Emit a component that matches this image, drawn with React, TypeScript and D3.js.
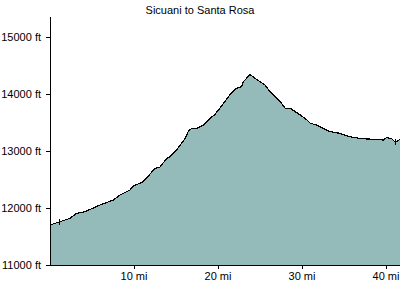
import React from "react";
import * as d3 from "d3";

const title = "Sicuani to Santa Rosa";
const miles = [0, 1.19, 2.38, 3.18, 4.17, 5.95, 7.54, 8.33, 9.52, 9.92, 11.1, 11.7, 12.5, 13.1, 13.9, 14.3, 14.9, 15.5, 16.1, 16.5, 16.9, 17.5, 18.25, 18.85, 19.25, 19.6, 20.2, 20.8, 21.4, 22.2, 22.8, 23.0, 23.4, 23.8, 24.4, 25.0, 25.6, 26.2, 26.8, 27.4, 28.0, 28.6, 29.2, 29.8, 30.6, 31.0, 31.75, 32.5, 33.3, 34.5, 35.7, 36.9, 38.5, 39.7, 40.1, 40.7, 41.1, 41.7];
const elevations = [11702, 11760, 11819, 11907, 11935, 12053, 12140, 12228, 12316, 12386, 12461, 12561, 12696, 12719, 12872, 12900, 12988, 13105, 13223, 13356, 13398, 13398, 13456, 13544, 13602, 13632, 13749, 13865, 13982, 14100, 14130, 14216, 14275, 14346, 14275, 14216, 14158, 14040, 13953, 13865, 13749, 13749, 13690, 13632, 13544, 13486, 13456, 13398, 13342, 13310, 13251, 13219, 13205, 13193, 13240, 13211, 13153, 13205];
const markerMiles = [1.1, 41.1];
const yTicks = [11000, 12000, 13000, 14000, 15000];
const xTicks = [10, 20, 30, 40];

export default function App() {
  const W = 400, H = 300;
  const x = d3.scaleLinear().domain([0, 41.667]).range([50, 400]);
  const y = d3.scaleLinear().domain([11000, 15351]).range([265, 17]);
  const data = miles.map((m, i) => ({ m, e: elevations[i] }));
  const area = d3.area<{ m: number; e: number }>().x(d => x(d.m)).y0(y(11000)).y1(d => y(d.e));
  const line = d3.line<{ m: number; e: number }>().x(d => x(d.m)).y(d => y(d.e));
  const interp = (m: number) => {
    const i = d3.bisector((d: { m: number }) => d.m).left(data, m);
    if (i <= 0) return data[0].e;
    if (i >= data.length) return data[data.length - 1].e;
    const a = data[i - 1], b = data[i];
    return a.e + (b.e - a.e) * (m - a.m) / (b.m - a.m);
  };
  const font = "'Liberation Sans', Arial, sans-serif";
  return (
    <svg width={W} height={H} style={{ position: "absolute", left: 0, top: 0, background: "#fff" }} fontFamily={font}>
      <path d={area(data) || ""} fill="#95BABA" />
      <path d={line(data) || ""} fill="none" stroke="#000" strokeWidth={1.2} shapeRendering="crispEdges" />
      {markerMiles.map((m, i) => (
        <line key={i} x1={Math.round(x(m)) + 0.5} x2={Math.round(x(m)) + 0.5} y1={y(interp(m)) - 3} y2={y(interp(m)) + 3} stroke="#000" shapeRendering="crispEdges" />
      ))}
      <line x1={50.5} x2={50.5} y1={17} y2={265.5} stroke="#000" shapeRendering="crispEdges" />
      <line x1={50} x2={400} y1={265.5} y2={265.5} stroke="#000" shapeRendering="crispEdges" />
      {yTicks.map(t => (
        <g key={t}>
          <line x1={46} x2={50} y1={Math.round(y(t)) + 0.5} y2={Math.round(y(t)) + 0.5} stroke="#000" shapeRendering="crispEdges" />
          <text x={41} y={y(t) + 4} fontSize={11} textAnchor="end" fill="#000">{`${t} ft`}</text>
        </g>
      ))}
      {xTicks.map(t => (
        <g key={t}>
          <line x1={Math.round(x(t)) + 0.5} x2={Math.round(x(t)) + 0.5} y1={265} y2={269} stroke="#000" shapeRendering="crispEdges" />
          <text x={x(t)} y={280} fontSize={11} textAnchor="middle" fill="#000">{`${t} mi`}</text>
        </g>
      ))}
      <text x={200} y={14} fontSize={11} textAnchor="middle" fill="#000">{title}</text>
    </svg>
  );
}
